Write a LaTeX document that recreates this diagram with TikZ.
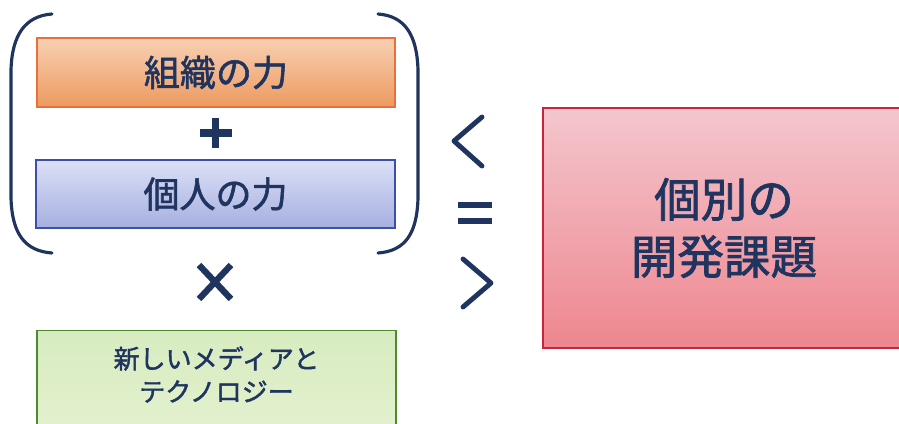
\documentclass[tikz,border=0pt]{standalone}
\usepackage{fontspec}
\setmainfont[FakeBold=1.6]{Noto Sans CJK JP}
\definecolor{blu}{HTML}{1F3560}
\definecolor{arancioA}{HTML}{F8D0B2}
\definecolor{arancioB}{HTML}{EC9A60}
\definecolor{arancioL}{HTML}{E8703A}
\definecolor{lillaA}{HTML}{DCE0F6}
\definecolor{lillaB}{HTML}{A6AFE0}
\definecolor{lillaL}{HTML}{3F4FA8}
\definecolor{rosaA}{HTML}{F4C6CE}
\definecolor{rosaB}{HTML}{EE868E}
\definecolor{rosaL}{HTML}{C8243A}
\definecolor{verdeA}{HTML}{D7EBC0}
\definecolor{verdeB}{HTML}{EAF5D6}
\definecolor{verdeL}{HTML}{4E8A2E}
\tikzset{
  riquadro/.style={rectangle, line width=0.6pt, text=blu, align=center},
  segno/.style={blu, line width=4pt},
  freccia/.style={blu, line width=2.8pt, line cap=round, line join=round},
  parentesi/.style={blu, line width=1.8pt, line cap=round}
}
\begin{document}
\begin{tikzpicture}[x=0.02cm, y=-0.02cm]
        \useasboundingbox[fill=white] (0,0) rectangle (899,423);

        % Disegna i riquadri
        \node[riquadro, draw=arancioL, top color=arancioA, bottom color=arancioB,
              minimum width=358*0.02cm, minimum height=69*0.02cm,
              font=\fontsize{20.5}{24}\selectfont] (org) at (216,72.5) {組織の力};
        \node[riquadro, draw=lillaL, top color=lillaA, bottom color=lillaB,
              minimum width=359*0.02cm, minimum height=68*0.02cm,
              font=\fontsize{20.5}{24}\selectfont] (ind) at (215.5,194) {個人の力};
        \node[riquadro, draw=verdeL, top color=verdeA, bottom color=verdeB,
              minimum width=359*0.02cm, anchor=north, inner ysep=9pt, text depth=1.4cm,
              font=\fontsize{14.8}{18.7}\selectfont] (media) at (216.5,330) {新しいメディアと\\テクノロジー};
        \node[riquadro, draw=rosaL, top color=rosaA, bottom color=rosaB,
              minimum width=362*0.02cm, minimum height=240*0.02cm,
              font=\fontsize{26.5}{32.5}\selectfont] (tema) at (724,228) {個別の\\開発課題};

        % Disegna le parentesi
        \draw[parentesi] (52,14) .. controls (25,16) and (12,35) .. (11,70)
              -- (11,198) .. controls (12,234) and (25,251) .. (52,253);
        \draw[parentesi] (378,14) .. controls (405,16) and (417,35) .. (418,70)
              -- (418,198) .. controls (417,234) and (405,251) .. (378,253);

        % Disegna i segni
        \coordinate (piu) at (215.5,133);
        \draw[segno] ([xshift=-16*0.02cm]piu) -- ([xshift=16*0.02cm]piu);
        \draw[segno] ([yshift=-15*0.02cm]piu) -- ([yshift=15*0.02cm]piu);
        \coordinate (per) at (215,282);
        \draw[segno, line width=3.6pt] ([shift={(-16,-17)}]per) -- ([shift={(16,17)}]per);
        \draw[segno, line width=3.6pt] ([shift={(16,-17)}]per) -- ([shift={(-16,17)}]per);

        % Disegna il confronto
        \draw[freccia] (482,117) -- (454,141) -- (482,166);
        \coordinate (uguale) at (475,213);
        \draw[segno, line width=3.4pt] ([shift={(-17,-8)}]uguale) -- ([shift={(17,-8)}]uguale);
        \draw[segno, line width=3.4pt] ([shift={(-17,8)}]uguale) -- ([shift={(17,8)}]uguale);
        \draw[freccia] (463,259) -- (491,283) -- (463,307);
\end{tikzpicture}
\end{document}
